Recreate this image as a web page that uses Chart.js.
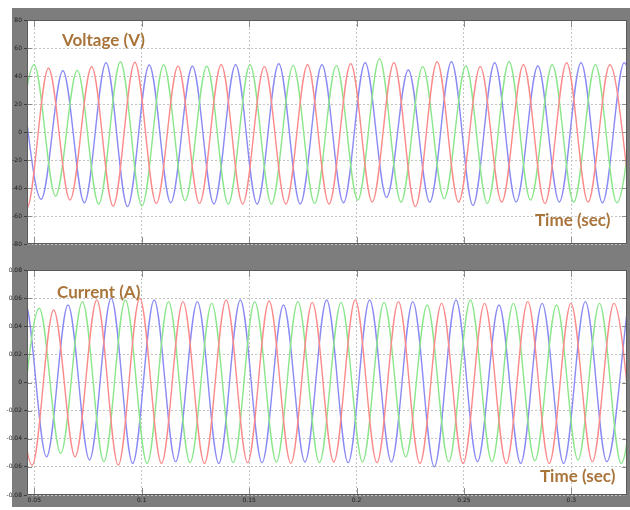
<!DOCTYPE html>
<html>
<head>
<meta charset="utf-8">
<script src="https://cdn.jsdelivr.net/npm/chart.js@4.4.0/dist/chart.umd.min.js"></script>
<style>
  html, body { margin: 0; padding: 0; background: #fff; }
  body { width: 630px; height: 510px; position: relative; overflow: hidden; }
  #frame { position: absolute; left: 12px; top: 8px; width: 618px; height: 499px; background: #7d7d7d; }
  canvas { position: absolute; left: 0; }
  #volt { top: 0; }
  #curr { top: 250px; }
</style>
</head>
<body>
<div id="frame"></div>
<canvas id="volt" width="630" height="250"></canvas>
<canvas id="curr" width="630" height="260"></canvas>
<script>
// peaks and troughs of each phase (time in s)
const vRedT = [0.0365, 0.0465, 0.0566, 0.0666, 0.0767, 0.0867, 0.0968, 0.1068, 0.1169, 0.1269, 0.1370, 0.1470, 0.1571, 0.1671, 0.1772, 0.1872, 0.1973, 0.2073, 0.2174, 0.2274, 0.2375, 0.2475, 0.2576, 0.2676, 0.2777, 0.2877, 0.2978, 0.3078, 0.3179, 0.3279];
const vRed = [45, -54.5, 45.5, -48.6, 46.6, -52.9, 49.8, -51, 47, -51, 48, -51.4, 46.7, -51.4, 48, -51.4, 48.8, -50, 49.5, -53.3, 50.2, -50, 46.7, -50, 48, -51, 49.5, -50, 48, -51];
const vGreenT = [0.0398, 0.0499, 0.0599, 0.0700, 0.0800, 0.0901, 0.1001, 0.1102, 0.1202, 0.1303, 0.1403, 0.1504, 0.1604, 0.1705, 0.1805, 0.1906, 0.2006, 0.2107, 0.2207, 0.2308, 0.2408, 0.2509, 0.2609, 0.2710, 0.2810, 0.2911, 0.3011, 0.3112, 0.3212, 0.3313];
const vGreen = [-45, 48, -45.7, 44, -51.4, 50.2, -52.9, 47.9, -49, 47, -51.4, 48, -51.4, 47.4, -51, 47.4, -48.6, 52.4, -50, 46.7, -47.6, 47.1, -51, 50.2, -48.6, 48, -50, 48, -50.5, 48];
const vBlueT = [0.0432, 0.0532, 0.0633, 0.0733, 0.0834, 0.0934, 0.1035, 0.1135, 0.1236, 0.1336, 0.1437, 0.1537, 0.1638, 0.1738, 0.1839, 0.1939, 0.2040, 0.2140, 0.2241, 0.2341, 0.2442, 0.2542, 0.2643, 0.2743, 0.2844, 0.2944, 0.3045, 0.3145, 0.3246, 0.3346];
const vBlue = [45, -48, 43.8, -50.5, 49.5, -53.3, 47.9, -50.5, 47, -51.4, 48, -51.4, 48.8, -51.4, 48, -50.5, 49.5, -46.7, 44.3, -50, 50.2, -52.4, 49.5, -50, 47.1, -50, 49.5, -50.5, 49.5, -50];

const iRedT = [0.0389, 0.0490, 0.0590, 0.0690, 0.0791, 0.0891, 0.0991, 0.1092, 0.1192, 0.1292, 0.1393, 0.1493, 0.1593, 0.1694, 0.1794, 0.1894, 0.1994, 0.2095, 0.2195, 0.2295, 0.2396, 0.2496, 0.2596, 0.2697, 0.2797, 0.2897, 0.2998, 0.3098, 0.3198, 0.3299];
const iRed = [0.052, -0.0587, 0.0516, -0.0528, 0.0587, -0.0587, 0.0599, -0.0575, 0.0575, -0.0575, 0.0587, -0.057, 0.058, -0.0575, 0.057, -0.0565, 0.0587, -0.057, 0.0575, -0.0575, 0.0563, -0.0575, 0.0563, -0.0575, 0.0575, -0.0575, 0.0563, -0.0563, 0.0563, -0.057];
const iGreenT = [0.0423, 0.0523, 0.0623, 0.0724, 0.0824, 0.0924, 0.1025, 0.1125, 0.1225, 0.1326, 0.1426, 0.1526, 0.1627, 0.1727, 0.1827, 0.1928, 0.2028, 0.2128, 0.2229, 0.2329, 0.2429, 0.2530, 0.2630, 0.2730, 0.2830, 0.2931, 0.3031, 0.3131, 0.3232, 0.3332];
const iGreen = [-0.05, 0.0528, -0.0504, 0.0575, -0.0563, 0.0587, -0.0575, 0.0575, -0.057, 0.0563, -0.057, 0.0575, -0.0565, 0.0575, -0.057, 0.057, -0.0565, 0.057, -0.0528, 0.0551, -0.0563, 0.0587, -0.0563, 0.0563, -0.0557, 0.0551, -0.0551, 0.0563, -0.0575, 0.056];
const iBlueT = [0.0356, 0.0456, 0.0557, 0.0657, 0.0757, 0.0858, 0.0958, 0.1058, 0.1158, 0.1259, 0.1359, 0.1459, 0.1560, 0.1660, 0.1760, 0.1861, 0.1961, 0.2061, 0.2162, 0.2262, 0.2362, 0.2463, 0.2563, 0.2663, 0.2764, 0.2864, 0.2964, 0.3065, 0.3165, 0.3265];
const iBlue = [-0.055, 0.0575, -0.0528, 0.0551, -0.0551, 0.0599, -0.0575, 0.0587, -0.0563, 0.0575, -0.0575, 0.0587, -0.057, 0.0551, -0.0565, 0.0587, -0.057, 0.0587, -0.0565, 0.0575, -0.0599, 0.0587, -0.0563, 0.0551, -0.0575, 0.0563, -0.0575, 0.0575, -0.0563, 0.057];

const timeRange = [0.0466, 0.3259];
const timeStep = 0.05;
const voltRange = [-80, 80, 20];
const currRange = [-0.08, 0.08, 0.02];

const RED = '#fb8b8b', GREEN = '#8be68b', BLUE = '#8a8af4';
const TXT = '#a9743a';

function pts(ts, vs) {
  return ts.map((t, i) => ({ x: t, y: vs[i] }));
}

function trace(ts, vs, color) {
  return {
    data: pts(ts, vs),
    borderColor: color,
    borderWidth: 1.4,
    pointRadius: 0,
    fill: false,
    cubicInterpolationMode: 'monotone',
    clip: 0
  };
}

function fmt(v) {
  return String(Math.round(v * 100) / 100);
}

// white plot area, inner ticks, frame and the brown captions
const scopeLook = {
  id: 'scopeLook',
  beforeDraw(chart) {
    const { ctx, chartArea: a } = chart;
    ctx.save();
    ctx.fillStyle = '#fff';
    ctx.fillRect(a.left, a.top, a.right - a.left, a.bottom - a.top);
    ctx.restore();
  },
  afterDatasetsDraw(chart, args, opts) {
    const { ctx, chartArea: a, scales } = chart;
    ctx.save();
    ctx.strokeStyle = '#8c8c8c';
    ctx.lineWidth = 1;
    ctx.beginPath();
    scales.x.ticks.forEach(t => {
      const x = Math.round(scales.x.getPixelForValue(t.value)) + 0.5;
      ctx.moveTo(x, a.top); ctx.lineTo(x, a.top + 7);
      ctx.moveTo(x, a.bottom); ctx.lineTo(x, a.bottom - 7);
    });
    scales.y.ticks.forEach(t => {
      const y = Math.round(scales.y.getPixelForValue(t.value)) + 0.5;
      ctx.moveTo(a.left, y); ctx.lineTo(a.left + 5, y);
      ctx.moveTo(a.right, y); ctx.lineTo(a.right - 5, y);
    });
    ctx.stroke();
    ctx.strokeStyle = '#5a5a5a';
    ctx.strokeRect(a.left + 0.5, a.top + 0.5, a.right - a.left - 1, a.bottom - a.top - 1);
    ctx.fillStyle = TXT;
    ctx.font = 'bold 17px Lato';
    ctx.textBaseline = 'middle';
    (opts.labels || []).forEach(l => ctx.fillText(l.text, l.x, l.y));
    ctx.restore();
  }
};

function makeChart(id, series, yr, showX, xHeight, labels) {
  return new Chart(document.getElementById(id), {
    type: 'line',
    data: { datasets: series },
    plugins: [scopeLook],
    options: {
      responsive: false,
      animation: false,
      events: [],
      layout: { padding: { left: 0, top: 20, right: 3, bottom: 0 } },
      plugins: {
        legend: { display: false },
        tooltip: { enabled: false },
        scopeLook: { labels: labels }
      },
      scales: {
        x: {
          type: 'linear',
          min: timeRange[0],
          max: timeRange[1],
          afterFit: s => { s.height = xHeight; },
          ticks: {
            display: showX,
            stepSize: timeStep,
            includeBounds: false,
            padding: 2,
            color: '#1e1e1e',
            font: { size: 6, family: 'DejaVu Sans' },
            callback: fmt,
            maxRotation: 0,
            autoSkip: false
          },
          grid: { color: '#c4c4c4', drawTicks: false },
          border: { display: false, dash: [2, 2] }
        },
        y: {
          min: yr[0],
          max: yr[1],
          afterFit: s => { s.width = 27; },
          ticks: {
            stepSize: yr[2],
            padding: 2,
            color: '#1e1e1e',
            font: { size: 6, family: 'DejaVu Sans' },
            callback: fmt
          },
          grid: { color: '#c4c4c4', drawTicks: true, tickLength: 3, tickColor: '#3c3c3c' },
          border: { display: false, dash: [2, 2] }
        }
      }
    }
  });
}

makeChart('volt', [
  trace(vRedT, vRed, RED),
  trace(vGreenT, vGreen, GREEN),
  trace(vBlueT, vBlue, BLUE)
], voltRange, false, 6, [
  { text: 'Voltage (V)', x: 62, y: 41 },
  { text: 'Time (sec)', x: 535, y: 221 }
]);

makeChart('curr', [
  trace(iRedT, iRed, RED),
  trace(iGreenT, iGreen, GREEN),
  trace(iBlueT, iBlue, BLUE)
], currRange, true, 15, [
  { text: 'Current (A)', x: 57, y: 43 },
  { text: 'Time (sec)', x: 540, y: 227 }
]);
</script>
</body>
</html>
